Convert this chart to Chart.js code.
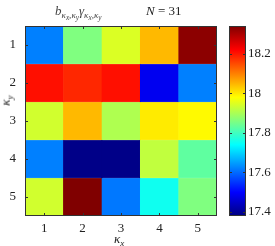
<!DOCTYPE html>
<html>
<head>
<meta charset="utf-8">
<script src="https://cdn.jsdelivr.net/npm/chart.js@4/dist/chart.umd.min.js"></script>
<style>
  body { margin: 0; width: 275px; height: 246px; position: relative; background: #fff; overflow: hidden; font-family: "Liberation Serif", "DejaVu Serif", serif; color: #222; }
  .box { position: absolute; top: 0; height: 246px; }
  .lbl { position: absolute; white-space: nowrap; font-style: italic; line-height: 1; }
  sub { font-size: 70%; vertical-align: -0.3em; line-height: 0; }
  sub sub { font-size: 80%; }
</style>
</head>
<body>
<div class="box" style="left:0;width:222px"><canvas id="heat"></canvas></div>
<div class="box" style="left:222px;width:53px"><canvas id="bar"></canvas></div>
<div class="lbl" style="left:55px;top:4px;font-size:13px;color:#444">b<sub>κ<sub>x</sub>,κ<sub>y</sub></sub>γ<sub>κ<sub>x</sub>,κ<sub>y</sub></sub></div>
<div class="lbl" style="left:146px;top:4px;font-size:13px;color:#222">N <span style="font-style:normal">= 31</span></div>
<div class="lbl" style="left:114px;top:232px;font-size:13px">κ<sub>x</sub></div>
<div class="lbl" style="left:0px;top:94px;font-size:13px;transform:rotate(-90deg)">κ<sub>y</sub></div>
<script>
// kappa_x across, kappa_y down
const kxLabels = ['1', '2', '3', '4', '5'];
const kyLabels = [1, 2, 3, 4, 5];
const row1 = [17.62, 17.86, 17.946, 18.046, 18.328];
const row2 = [18.206, 18.183, 18.206, 17.486, 17.62];
const row3 = [17.937, 18.046, 17.905, 17.999, 17.985];
const row4 = [17.62, 17.388, 17.388, 17.922, 17.829];
const row5 = [17.937, 18.34, 17.613, 17.754, 17.86];
const rows = [row1, row2, row3, row4, row5];
const cMin = 17.38;
const cMax = 18.34;
const cTicks = [17.4, 17.6, 17.8, 18, 18.2];

function clamp(v) { return Math.max(0, Math.min(1, v)); }
function jet(t) {
  const r = clamp(1.5 - Math.abs(4 * t - 3));
  const g = clamp(1.5 - Math.abs(4 * t - 2));
  const b = clamp(1.5 - Math.abs(4 * t - 1));
  return `rgb(${Math.round(r * 255)},${Math.round(g * 255)},${Math.round(b * 255)})`;
}
function colorFor(v) { return jet((v - cMin) / (cMax - cMin)); }

// frame + small inward ticks, matlab style
const frame = {
  id: 'frame',
  afterDatasetsDraw(chart, args, opts) {
    const { ctx, chartArea: a } = chart;
    ctx.save();
    ctx.strokeStyle = '#333';
    ctx.lineWidth = 1;
    ctx.beginPath();
    if (opts.xTicks) {
      chart.scales.x.ticks.forEach((t, i) => {
        const px = Math.round(chart.scales.x.getPixelForTick(i)) + 0.5;
        ctx.moveTo(px, a.bottom); ctx.lineTo(px, a.bottom - 3);
        ctx.moveTo(px, a.top); ctx.lineTo(px, a.top + 3);
      });
    }
    chart.scales.y.ticks.forEach(t => {
      const py = Math.round(chart.scales.y.getPixelForValue(t.value)) + 0.5;
      ctx.moveTo(a.left, py); ctx.lineTo(a.left + 3, py);
      ctx.moveTo(a.right, py); ctx.lineTo(a.right - 3, py);
    });
    ctx.stroke();
    ctx.strokeRect(Math.round(a.left) + 0.5, Math.round(a.top) + 0.5,
      Math.round(a.right - a.left) - 1, Math.round(a.bottom - a.top) - 1);
    ctx.restore();
  }
};

const tickFont = { family: '"Liberation Serif", serif', size: 13 };

new Chart(document.getElementById('heat'), {
  type: 'bar',
  data: {
    labels: kxLabels,
    datasets: rows.map((row, i) => ({
      label: 'ky ' + kyLabels[i],
      data: row.map(() => [kyLabels[i] - 0.5, kyLabels[i] + 0.5]),
      backgroundColor: row.map(colorFor),
      borderColor: row.map(colorFor),
      borderWidth: 0.5,
      borderSkipped: false,
      grouped: false,
      categoryPercentage: 1,
      barPercentage: 1
    }))
  },
  options: {
    responsive: true,
    maintainAspectRatio: false,
    animation: false,
    devicePixelRatio: 1,
    layout: { padding: { top: 26, right: 5, left: 0, bottom: 0 } },
    plugins: { legend: { display: false }, tooltip: { enabled: false }, frame: { xTicks: true } },
    scales: {
      x: {
        grid: { display: false, drawTicks: false },
        border: { display: false },
        ticks: { color: '#222', font: tickFont, padding: 5 },
        afterFit: s => { s.height = 30; }
      },
      y: {
        type: 'linear',
        reverse: true,
        min: 0.5,
        max: 5.5,
        grid: { display: false, drawTicks: false },
        border: { display: false },
        afterBuildTicks: s => { s.ticks = kyLabels.map(v => ({ value: v })); },
        ticks: { color: '#222', font: tickFont, padding: 9 },
        afterFit: s => { s.width = 25; }
      }
    }
  },
  plugins: [frame]
});

new Chart(document.getElementById('bar'), {
  type: 'bar',
  data: {
    labels: ['c'],
    datasets: [{
      data: [[cMin, cMax]],
      backgroundColor: ctx => {
        const a = ctx.chart.chartArea;
        if (!a) return '#888';
        const g = ctx.chart.ctx.createLinearGradient(0, a.bottom, 0, a.top);
        [0, 0.125, 0.375, 0.625, 0.875, 1].forEach(s => g.addColorStop(s, jet(s)));
        return g;
      },
      borderWidth: 0,
      categoryPercentage: 1,
      barPercentage: 1
    }]
  },
  options: {
    responsive: true,
    maintainAspectRatio: false,
    animation: false,
    devicePixelRatio: 1,
    layout: { padding: { top: 26, left: 7, right: 0, bottom: 30 } },
    plugins: { legend: { display: false }, tooltip: { enabled: false }, frame: { xTicks: false } },
    scales: {
      x: { display: false },
      y: {
        position: 'right',
        min: cMin,
        max: cMax,
        grid: { display: false, drawTicks: false },
        border: { display: false },
        afterBuildTicks: s => { s.ticks = cTicks.map(v => ({ value: v })); },
        ticks: { color: '#222', font: tickFont, padding: 2, callback: v => String(+v.toFixed(1)) },
        afterFit: s => { s.width = 29; }
      }
    }
  },
  plugins: [frame]
});
</script>
</body>
</html>
